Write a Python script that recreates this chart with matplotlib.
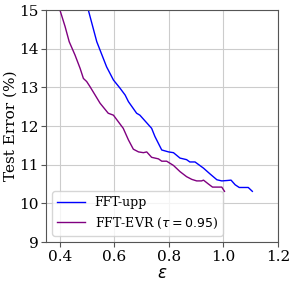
import matplotlib
matplotlib.use("Agg")
import matplotlib.pyplot as plt

# FFT-upp curve
upp_eps = [0.505, 0.536, 0.572, 0.597, 0.621, 0.640, 0.652, 0.682, 0.694, 0.737,
           0.749, 0.774, 0.799, 0.817, 0.841, 0.865, 0.877, 0.896, 0.927, 0.951,
           0.976, 0.994, 1.013, 1.028, 1.043, 1.058, 1.091, 1.106]
upp_err = [15.0, 14.18, 13.53, 13.19, 12.98, 12.80, 12.63, 12.33, 12.28, 11.94,
           11.73, 11.38, 11.33, 11.31, 11.17, 11.13, 11.07, 11.07, 10.91, 10.76,
           10.61, 10.58, 10.59, 10.60, 10.48, 10.41, 10.41, 10.31]

# FFT-EVR (tau = 0.95) curve
evr_eps = [0.401, 0.420, 0.435, 0.456, 0.475, 0.487, 0.499, 0.511, 0.530, 0.548,
           0.578, 0.597, 0.615, 0.633, 0.652, 0.670, 0.689, 0.707, 0.719, 0.737,
           0.762, 0.774, 0.792, 0.817, 0.841, 0.865, 0.884, 0.902, 0.920, 0.927,
           0.945, 0.960, 0.994, 1.004]
evr_err = [15.0, 14.57, 14.18, 13.84, 13.49, 13.23, 13.15, 13.02, 12.80, 12.59,
           12.33, 12.28, 12.11, 11.94, 11.64, 11.40, 11.33, 11.31, 11.33, 11.19,
           11.15, 11.09, 11.09, 10.98, 10.82, 10.69, 10.62, 10.58, 10.58, 10.60,
           10.50, 10.42, 10.42, 10.31]

fig = plt.figure(figsize=(2.94, 2.83), dpi=100)
ax = fig.add_axes([46 / 294, 1 - 242 / 283, 232 / 294, 232 / 283])

ax.plot(upp_eps, upp_err, color="blue", lw=1.0, label="FFT-upp")
ax.plot(evr_eps, evr_err, color="purple", lw=1.0, label=r"FFT-EVR ($\tau = 0.95$)")

ax.set_xlim(0.35, 1.2)
ax.set_ylim(9, 15)
ax.set_xticks([0.4, 0.6, 0.8, 1.0, 1.2])
ax.set_yticks([9, 10, 11, 12, 13, 14, 15])
ax.grid(True, color="#cccccc", lw=0.8)
ax.set_axisbelow(True)

for sp in ax.spines.values():
    sp.set_color("#555555")
    sp.set_linewidth(0.8)
ax.tick_params(labelsize=11, length=3.5, pad=2, color="#555555")
for lab in ax.get_xticklabels() + ax.get_yticklabels():
    lab.set_family("DejaVu Serif")

ax.set_xlabel(r"$\epsilon$", fontsize=12, labelpad=0)
ax.set_ylabel("Test Error (%)", fontsize=11, family="DejaVu Serif", labelpad=1)

leg = ax.legend(loc="lower left", prop={"family": "DejaVu Serif", "size": 9},
                handlelength=2.2, borderaxespad=0.5, framealpha=0.8)

fig.savefig("out.png", dpi=100)
